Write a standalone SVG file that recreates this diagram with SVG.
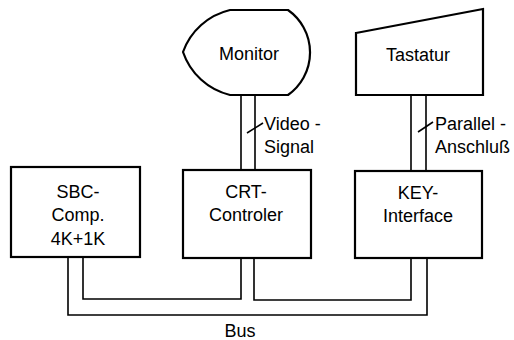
<svg xmlns="http://www.w3.org/2000/svg" width="514" height="340" viewBox="0 0 514 340">
<style>
.node{fill:#fff;stroke:#000;stroke-width:2.2;stroke-linejoin:miter}
.wire{fill:none;stroke:#000;stroke-width:1.6}
text{font-family:"Liberation Sans",Arial,sans-serif;font-size:18px;fill:#000}
.c{text-anchor:middle}
</style>
<rect width="514" height="340" fill="#fff"/>
<g id="connectors">
<path class="wire" d="M241,95 V170 M255,95 V170"/>
<path class="wire" d="M247,133 L263,123"/>
<path class="wire" d="M411,95 V171 M426,95 V171"/>
<path class="wire" d="M418,132 L433,122"/>
<path class="wire" d="M83,257 V299 H241 V258"/>
<path class="wire" d="M254,258 V300 H411 V258"/>
<path class="wire" d="M68,257 V315 H427 V258"/>
</g>
<g id="monitor">
<path class="node" d="M230,10 H288 A52,52 0 0,1 288,95 H230 A66,66 0 0,1 183,52 A66,66 0 0,1 230,10 Z"/>
<text class="c" x="249" y="60">Monitor</text>
</g>
<g id="tastatur">
<path class="node" d="M356,33 L483,9 V95 H356 Z"/>
<text class="c" x="418" y="61">Tastatur</text>
</g>
<g id="sbc">
<rect class="node" x="11" y="167" width="129" height="90"/>
<text class="c" x="78" y="198">SBC-</text>
<text class="c" x="78" y="221">Comp.</text>
<text class="c" x="78" y="245">4K+1K</text>
</g>
<g id="crt">
<rect class="node" x="183" y="170" width="128" height="88"/>
<text class="c" x="246" y="198">CRT-</text>
<text class="c" x="246" y="221">Controler</text>
</g>
<g id="key">
<rect class="node" x="355" y="171" width="127" height="87"/>
<text class="c" x="418" y="199">KEY-</text>
<text class="c" x="418" y="222">Interface</text>
</g>
<g id="labels">
<text x="264" y="130">Video -</text>
<text x="264" y="153">Signal</text>
<text x="435" y="130">Parallel -</text>
<text x="435" y="153">Anschluß</text>
<text class="c" x="240" y="337">Bus</text>
</g>
</svg>
